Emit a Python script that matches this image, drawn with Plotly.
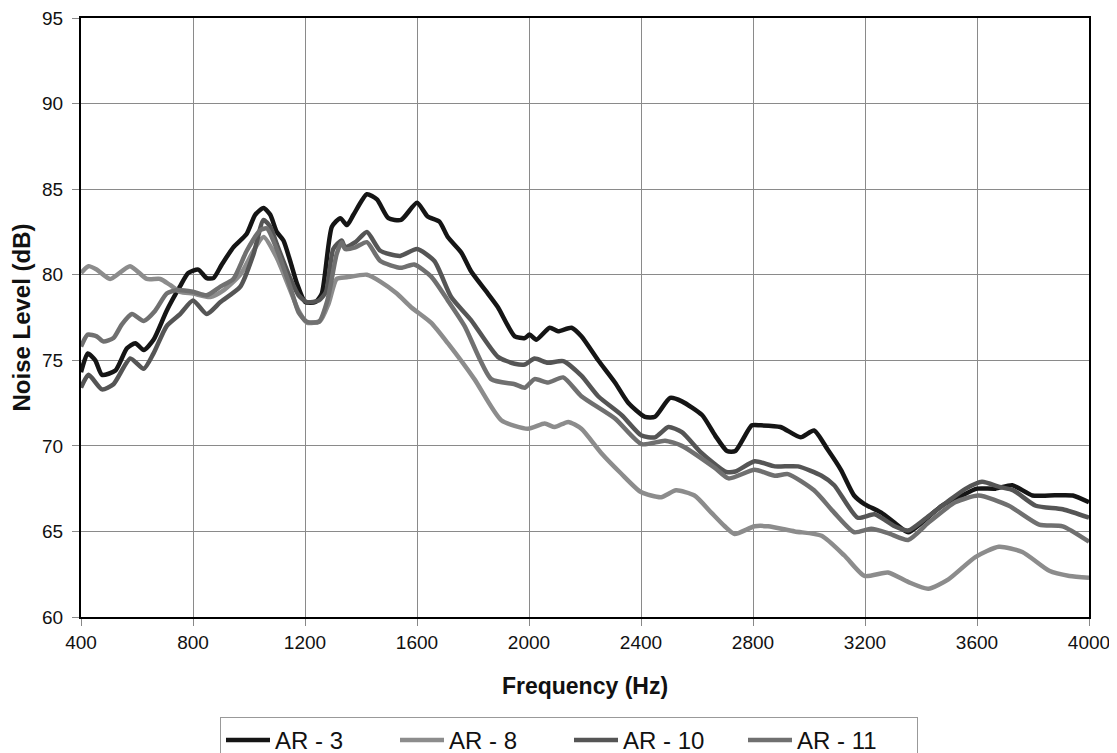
import plotly.graph_objects as go

# ---------------- data ----------------
ar3_f = [400, 424, 451, 475, 523, 564, 594, 624, 659, 706, 753, 783, 819, 849, 873, 903, 944, 992,
         1022, 1052, 1076, 1099, 1123, 1147, 1171, 1201, 1237, 1260, 1296, 1326, 1350, 1373, 1421,
         1457, 1498, 1543, 1600, 1638, 1680, 1710, 1758, 1793, 1853, 1889, 1949, 1985, 2002, 2026,
         2074, 2104, 2152, 2187, 2247, 2307, 2355, 2414, 2450, 2504, 2546, 2618, 2665, 2707, 2737,
         2796, 2826, 2898, 2970, 3018, 3066, 3114, 3161, 3198, 3258, 3306, 3354, 3402, 3474, 3546,
         3600, 3666, 3726, 3798, 3858, 3942, 4000]
ar3_db = [74.3, 75.4, 75.0, 74.15, 74.4, 75.7, 76.0, 75.6, 76.2, 77.9, 79.3, 80.1, 80.3, 79.8, 79.8,
          80.6, 81.6, 82.4, 83.5, 83.9, 83.5, 82.5, 82.0, 80.8, 79.5, 78.4, 78.4, 78.9, 82.8, 83.3,
          82.9, 83.5, 84.7, 84.4, 83.3, 83.2, 84.2, 83.4, 83.1, 82.2, 81.3, 80.2, 78.9, 78.1, 76.4,
          76.3, 76.5, 76.2, 76.9, 76.7, 76.9, 76.4, 75.0, 73.7, 72.5, 71.7, 71.7, 72.8, 72.6, 71.8,
          70.6, 69.7, 69.7, 71.2, 71.2, 71.1, 70.5, 70.9, 69.8, 68.6, 67.1, 66.6, 66.1, 65.5, 64.95,
          65.5, 66.5, 67.1, 67.5, 67.5, 67.7, 67.1, 67.1, 67.1, 66.7]

ar8_f = [400, 427, 456, 504, 575, 635, 683, 718, 754, 800, 862, 910, 969, 1016, 1052, 1099, 1147,
         1177, 1207, 1254, 1284, 1313, 1349, 1421, 1469, 1528, 1579, 1650, 1710, 1805, 1901, 1996,
         2056, 2092, 2140, 2187, 2257, 2328, 2400, 2472, 2525, 2591, 2651, 2699, 2734, 2806, 2854,
         2949, 3045, 3126, 3198, 3282, 3354, 3426, 3498, 3594, 3678, 3762, 3858, 3930, 4000]
ar8_db = [80.1, 80.5, 80.3, 79.75, 80.5, 79.75, 79.75, 79.4, 79.0, 78.9, 78.7, 79.1, 80.0, 81.4,
          82.2, 81.0, 79.1, 77.9, 77.2, 77.3, 78.3, 79.75, 79.85, 80.0, 79.6, 78.9, 78.1, 77.2,
          76.0, 73.9, 71.5, 71.0, 71.3, 71.1, 71.4, 71.0, 69.6, 68.4, 67.3, 67.0, 67.4, 67.1, 66.1,
          65.3, 64.85, 65.3, 65.3, 65.0, 64.75, 63.6, 62.4, 62.6, 62.05, 61.65, 62.2, 63.5, 64.1,
          63.8, 62.7, 62.4, 62.3]

ar10_f = [400, 427, 475, 516, 576, 624, 659, 706, 754, 800, 849, 898, 969, 1016, 1052, 1076, 1099,
          1147, 1177, 1207, 1250, 1275, 1301, 1331, 1343, 1380, 1421, 1469, 1540, 1600, 1662, 1722,
          1793, 1889, 1949, 1985, 2020, 2068, 2122, 2187, 2247, 2331, 2402, 2450, 2498, 2546, 2615,
          2701, 2737, 2806, 2878, 2961, 3045, 3090, 3174, 3234, 3306, 3354, 3420, 3500, 3560, 3618,
          3680, 3730, 3810, 3906, 4000]
ar10_db = [73.4, 74.15, 73.3, 73.6, 75.1, 74.5, 75.4, 77.0, 77.7, 78.5, 77.7, 78.4, 79.3, 81.2,
           83.2, 82.8, 81.8, 79.8, 78.8, 78.4, 78.5, 79.0, 81.5, 82.0, 81.6, 81.9, 82.5, 81.4, 81.1,
           81.5, 80.8, 78.7, 77.35, 75.2, 74.8, 74.75, 75.1, 74.85, 74.95, 74.1, 72.9, 71.8, 70.6,
           70.5, 71.1, 70.8, 69.6, 68.5, 68.5, 69.1, 68.8, 68.8, 68.25, 67.7, 65.8, 66.0, 65.3, 65.05,
           65.8, 66.8, 67.5, 67.9, 67.6, 67.4, 66.5, 66.3, 65.8]

ar11_f = [400, 424, 456, 480, 516, 546, 582, 624, 665, 706, 742, 800, 849, 898, 944, 992, 1040,
          1064, 1099, 1147, 1177, 1207, 1250, 1280, 1313, 1331, 1343, 1380, 1421, 1469, 1543, 1590,
          1650, 1710, 1770, 1865, 1949, 1985, 2020, 2068, 2122, 2187, 2307, 2402, 2486, 2546, 2665,
          2713, 2806, 2878, 2925, 3018, 3090, 3162, 3222, 3282, 3354, 3426, 3522, 3606, 3714, 3822,
          3906, 4000]
ar11_db = [75.8, 76.5, 76.4, 76.1, 76.3, 77.1, 77.7, 77.3, 77.9, 78.9, 79.1, 79.0, 78.8, 79.3,
           79.75, 81.4, 82.6, 82.7, 81.5, 79.3, 77.8, 77.25, 77.25, 78.5, 81.2, 81.9, 81.5, 81.6,
           81.9, 80.8, 80.4, 80.6, 79.9, 78.5, 77.0, 73.9, 73.6, 73.4, 73.9, 73.7, 74.0, 72.9, 71.6,
           70.1, 70.3, 70.0, 68.7, 68.1, 68.6, 68.25, 68.35, 67.4, 66.1, 64.95, 65.15, 64.9, 64.5,
           65.5, 66.7, 67.1, 66.5, 65.4, 65.3, 64.4]

x_ticks = [400, 800, 1200, 1600, 2000, 2400, 2800, 3200, 3600, 4000]
y_ticks = [60, 65, 70, 75, 80, 85, 90, 95]

series = [
    ("AR - 3", ar3_f, ar3_db, "#151515"),
    ("AR - 8", ar8_f, ar8_db, "#8c8c8c"),
    ("AR - 10", ar10_f, ar10_db, "#555555"),
    ("AR - 11", ar11_f, ar11_db, "#707070"),
]

FONT = "Liberation Sans, Arial, sans-serif"

# the page adds an 8 px body margin, so the figure is drawn 8 px smaller
W, H = 1109, 745

fig = go.Figure()
for name, fx, fy, col in series:
    fig.add_trace(go.Scatter(x=fx, y=fy, name=name, mode="lines",
                             line=dict(color=col, width=4.5, shape="spline", smoothing=0.6)))

fig.update_layout(
    width=W, height=H,
    margin=dict(l=73, r=28, t=10, b=136),
    paper_bgcolor="white", plot_bgcolor="white",
    font=dict(family=FONT, size=19, color="#111"),
    showlegend=True,
    legend=dict(orientation="h", xref="container", x=212 / W, xanchor="left",
                yref="container", y=36 / H, yanchor="top",
                bordercolor="#999", borderwidth=1, font=dict(size=24, family=FONT, color="#111"),
                entrywidth=115, entrywidthmode="pixels", itemwidth=44,
                tracegroupgap=0),
)
fig.update_xaxes(range=[400, 4000], tickvals=x_ticks, ticktext=[str(v) for v in x_ticks],
                 showgrid=True, gridcolor="#8a8a8a", gridwidth=1,
                 showline=True, linecolor="black", linewidth=2, mirror=True,
                 ticks="outside", ticklen=7, tickcolor="#888", ticklabelstandoff=0,
                 tickfont=dict(size=19, family=FONT), ticklabeloverflow="allow",
                 automargin=False,
                 title=dict(text="<b>Frequency (Hz)</b>", font=dict(size=23, family=FONT), standoff=26),
                 zeroline=False)
fig.update_yaxes(range=[60, 95], tickvals=y_ticks, ticktext=[str(v) for v in y_ticks],
                 showgrid=True, gridcolor="#8a8a8a", gridwidth=1,
                 showline=True, linecolor="black", linewidth=2, mirror=True,
                 ticks="outside", ticklen=7, tickcolor="#888", ticklabelstandoff=5,
                 tickfont=dict(size=19, family=FONT), ticklabeloverflow="allow",
                 automargin=False,
                 title=dict(text="<b>Noise Level (dB)</b>", font=dict(size=24, family=FONT), standoff=9),
                 zeroline=False)

fig.write_html("out.html")
